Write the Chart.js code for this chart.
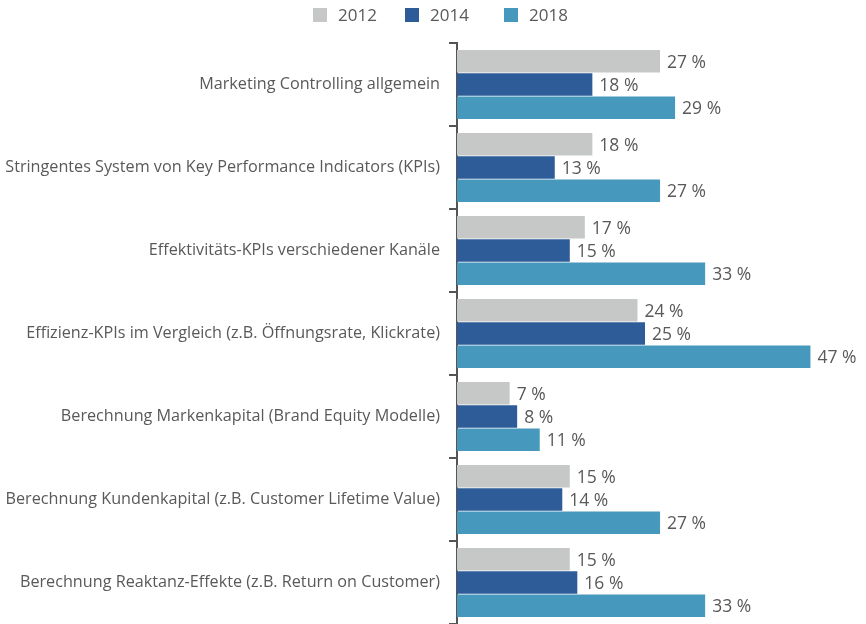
<!DOCTYPE html>
<html>
<head>
<meta charset="utf-8">
<script src="https://cdn.jsdelivr.net/npm/chart.js@4/dist/chart.umd.min.js"></script>
<style>
  html, body { margin: 0; padding: 0; background: #fff; }
  #wrap { width: 866px; height: 624px; position: relative; }
</style>
</head>
<body>
<div id="wrap"><canvas id="chart"></canvas></div>
<script>
// categories (top to bottom)
const categories = [
    "Marketing Controlling allgemein",
    "Stringentes System von Key Performance Indicators (KPIs)",
    "Effektivitäts-KPIs verschiedener Kanäle",
    "Effizienz-KPIs im Vergleich (z.B. Öffnungsrate, Klickrate)",
    "Berechnung Markenkapital (Brand Equity Modelle)",
    "Berechnung Kundenkapital (z.B. Customer Lifetime Value)",
    "Berechnung Reaktanz-Effekte (z.B. Return on Customer)"
];

const seriesNames = ["2012", "2014", "2018"];
const values2012 = [27, 18, 17, 24, 7, 15, 15];
const values2014 = [18, 13, 15, 25, 8, 14, 16];
const values2018 = [29, 27, 33, 47, 11, 27, 33];

const colors = ["#c6c7c7", "#2e5c99", "#4699bd"];
const textColor = "#595959";
const fontFamily = "'Open Sans', 'Noto Sans', sans-serif";

// value labels right of each bar, e.g. "27 %"
const valueLabels = {
    id: "valueLabels",
    afterDatasetsDraw(chart) {
        const ctx = chart.ctx;
        ctx.save();
        ctx.font = "17.5px " + fontFamily;
        ctx.fillStyle = textColor;
        ctx.textAlign = "left";
        ctx.textBaseline = "middle";
        chart.data.datasets.forEach(function (ds, i) {
            chart.getDatasetMeta(i).data.forEach(function (bar, j) {
                ctx.fillText(ds.data[j] + " %", bar.x + 7, bar.y + 1.5);
            });
        });
        ctx.restore();
    }
};

// simple centered legend at the top
const topLegend = {
    id: "topLegend",
    afterDraw(chart) {
        const ctx = chart.ctx;
        const box = 14;
        const starts = [313, 405, 504];
        ctx.save();
        ctx.font = "17px " + fontFamily;
        ctx.textBaseline = "middle";
        chart.data.datasets.forEach(function (ds, i) {
            const x = starts[i];
            ctx.fillStyle = ds.backgroundColor;
            ctx.fillRect(x, 8, box, box);
            ctx.fillStyle = textColor;
            ctx.fillText(ds.label, x + 25, 16);
        });
        ctx.restore();
    }
};

new Chart(document.getElementById("chart"), {
    type: "bar",
    data: {
        labels: categories,
        datasets: [
            { label: seriesNames[0], data: values2012, backgroundColor: colors[0] },
            { label: seriesNames[1], data: values2014, backgroundColor: colors[1] },
            { label: seriesNames[2], data: values2018, backgroundColor: colors[2] }
        ]
    },
    options: {
        indexAxis: "y",
        responsive: true,
        maintainAspectRatio: false,
        animation: false,
        layout: { padding: { top: 43, right: 33, bottom: 0, left: 0 } },
        datasets: {
            bar: { categoryPercentage: 0.84, barPercentage: 0.97, borderWidth: 0 }
        },
        plugins: {
            legend: { display: false },
            tooltip: { enabled: false }
        },
        scales: {
            x: { display: false, min: 0, max: 50 },
            y: {
                afterFit: function (scale) {
                    scale.width = 457;
                    scale.paddingTop = 0;
                    scale.paddingBottom = 0;
                },
                grid: {
                    offset: true,
                    drawOnChartArea: false,
                    drawTicks: true,
                    tickLength: 8,
                    color: "#555",
                    lineWidth: 2
                },
                border: { display: true, color: "#555", width: 2 },
                ticks: {
                    padding: 9,
                    color: textColor,
                    font: { family: fontFamily, size: 16.2 }
                }
            }
        }
    },
    plugins: [valueLabels, topLegend]
});
</script>
</body>
</html>
